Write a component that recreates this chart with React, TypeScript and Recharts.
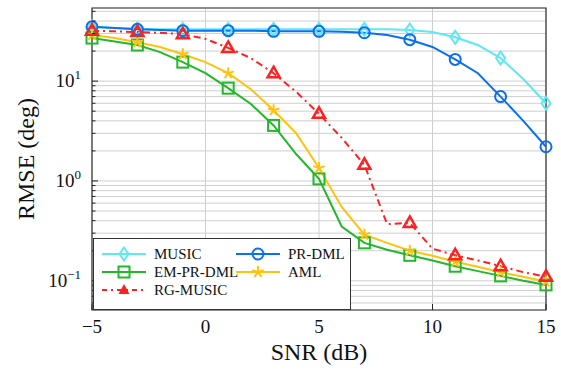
import React from "react";
import {
  CartesianGrid,
  Line,
  LineChart,
  ReferenceArea,
  XAxis,
  YAxis,
} from "recharts";

document.body.style.margin = "0";

const snr = [-5, -4, -3, -2, -1, 0, 1, 2, 3, 4, 5, 6, 7, 8, 9, 10, 11, 12, 13, 14, 15];

const music = [35, 34, 33.5, 33, 33, 33, 33, 33, 33, 33, 33, 33, 33, 33, 32.5, 31, 27.5, 23, 17, 10.5, 6.0];
const prDml = [35, 34, 33, 32.5, 32, 32, 32, 32, 31.5, 31.5, 31.5, 31.2, 30.5, 29, 26, 22, 16.5, 12, 7, 4, 2.2];
const emPrDml = [27, 25, 23, 19.5, 15.5, 12, 8.5, 5.9, 3.6, 1.85, 1.05, 0.35, 0.24, 0.205, 0.18, 0.16, 0.14, 0.125, 0.112, 0.1, 0.091];
const aml = [29, 27, 24.5, 22, 18.6, 15.5, 12, 8.3, 5.1, 3.0, 1.35, 0.55, 0.29, 0.24, 0.2, 0.178, 0.155, 0.138, 0.122, 0.11, 0.098];
const rgMusic = [32, 31.5, 31, 30.5, 29.5, 26.5, 21.5, 17, 12, 7.8, 4.7, 2.7, 1.45, 0.37, 0.38, 0.21, 0.18, 0.16, 0.14, 0.122, 0.11];

const xTicks = [-5, 0, 5, 10, 15];
const yTicks = [
  0.06, 0.07, 0.08, 0.09, 0.1, 0.2, 0.3, 0.4, 0.5, 0.6, 0.7, 0.8, 0.9,
  1, 2, 3, 4, 5, 6, 7, 8, 9, 10, 20, 30, 40, 50,
];
const yMajor: Record<number, string> = { 0.1: "−1", 1: "0", 10: "1" };
const Y_DOMAIN: [number, number] = [0.051, 54];

const FONT = "Liberation Serif";
const textStyle = { fontFamily: FONT };

const data = snr.map((x, i) => ({
  x,
  music: music[i],
  prDml: prDml[i],
  emPrDml: emPrDml[i],
  aml: aml[i],
  rgMusic: rgMusic[i],
}));

type MarkType = "diamond" | "circle" | "square" | "star" | "triangle";

const series: { key: string; name: string; color: string; mark: MarkType; dash?: string }[] = [
  { key: "music", name: "MUSIC", color: "#5ee8f2", mark: "diamond" },
  { key: "prDml", name: "PR-DML", color: "#0a6ff0", mark: "circle" },
  { key: "emPrDml", name: "EM-PR-DML", color: "#22b82a", mark: "square" },
  { key: "aml", name: "AML", color: "#ffc20e", mark: "star" },
  { key: "rgMusic", name: "RG-MUSIC", color: "#ff2020", mark: "triangle", dash: "7 4 2 4" },
];

function Marker({ cx, cy, color, mark }: { cx: number; cy: number; color: string; mark: MarkType }) {
  const sw = 2;
  if (mark === "circle") {
    return <circle cx={cx} cy={cy} r={5.5} fill="none" stroke={color} strokeWidth={sw} />;
  }
  if (mark === "square") {
    return <rect x={cx - 5.5} y={cy - 5.5} width={11} height={11} fill="none" stroke={color} strokeWidth={sw} />;
  }
  if (mark === "diamond") {
    const p = `${cx},${cy - 6.5} ${cx + 4.5},${cy} ${cx},${cy + 6.5} ${cx - 4.5},${cy}`;
    return <polygon points={p} fill="none" stroke={color} strokeWidth={sw} />;
  }
  if (mark === "triangle") {
    const p = `${cx},${cy - 6.5} ${cx + 6},${cy + 4} ${cx - 6},${cy + 4}`;
    return <polygon points={p} fill="none" stroke={color} strokeWidth={2.5} strokeLinejoin="miter" />;
  }
  // star
  const arms = [90, 162, 234, 306, 18].map((a) => {
    const r = (a * Math.PI) / 180;
    return (
      <line key={a} x1={cx} y1={cy} x2={cx + 6 * Math.cos(r)} y2={cy - 6 * Math.sin(r)} stroke={color} strokeWidth={sw} />
    );
  });
  return <g>{arms}</g>;
}

function makeDot(color: string, mark: MarkType) {
  return (props: any) => {
    const { cx, cy, payload, index } = props;
    if (payload.x % 2 === 0 || cx == null || cy == null) return <g key={index} />;
    return (
      <g key={index}>
        <Marker cx={cx} cy={cy} color={color} mark={mark} />
      </g>
    );
  };
}

function YTick(props: any) {
  const { x, y, payload } = props;
  const v = payload.value;
  const major = yMajor[v] !== undefined;
  const ax = x + 10;
  const len = major ? 6 : 3.5;
  return (
    <g>
      <line x1={ax} y1={y} x2={ax + len} y2={y} stroke="#222" strokeWidth={1} />
      {major && (
        <text x={x - 1} y={y + 6} textAnchor="end" style={textStyle} fontSize={19} fill="#111">
          10
          <tspan dy={-8} fontSize={13}>
            {yMajor[v]}
          </tspan>
        </text>
      )}
    </g>
  );
}

function YTickRight(props: any) {
  const { x, y, payload } = props;
  const major = yMajor[payload.value] !== undefined;
  const ax = x - 10;
  const len = major ? 6 : 3.5;
  return <line x1={ax} y1={y} x2={ax - len} y2={y} stroke="#222" strokeWidth={1} />;
}

function XTick(props: any) {
  const { x, y, payload } = props;
  const label = String(payload.value).replace("-", "−");
  return (
    <g>
      <line x1={x} y1={y - 10} x2={x} y2={y - 16} stroke="#222" strokeWidth={1} />
      <text x={x} y={y + 13} textAnchor="middle" style={textStyle} fontSize={19} fill="#111">
        {label}
      </text>
    </g>
  );
}

function LegendBox() {
  const order = ["music", "prDml", "emPrDml", "aml", "rgMusic"];
  return (
    <svg width={258} height={72} style={{ display: "block" }}>
      <rect x={0.5} y={0.5} width={257} height={71} fill="#fff" stroke="#333" strokeWidth={1} />
      {order.map((k, i) => {
        const s = series.find((d) => d.key === k)!;
        const col = i % 2;
        const row = Math.floor(i / 2);
        const x0 = col === 0 ? 9 : 143;
        const cy = 16 + row * 18;
        return (
          <g key={k}>
            <line x1={x0} y1={cy} x2={x0 + 44} y2={cy} stroke={s.color} strokeWidth={2} strokeDasharray={s.dash ? "5 4 2 4" : undefined} />
            {s.mark === "triangle" ? (
              <polygon points={`${x0 + 22},${cy - 6} ${x0 + 27.5},${cy + 4} ${x0 + 16.5},${cy + 4}`} fill={s.color} />
            ) : (
              <Marker cx={x0 + 22} cy={cy} color={s.color} mark={s.mark} />
            )}
            <text x={x0 + 52} y={cy + 5} style={textStyle} fontSize={15} fill="#111">
              {s.name}
            </text>
          </g>
        );
      })}
    </svg>
  );
}

export default function App() {
  return (
    <div style={{ position: "relative", width: 561, height: 371, background: "#fff" }}>
      <LineChart width={561} height={371} data={data} margin={{ top: 8, right: 15, bottom: 0, left: 0 }}>
        <CartesianGrid stroke="#cfcfcf" strokeWidth={1} />
        <XAxis
          dataKey="x"
          type="number"
          domain={[-5, 15]}
          ticks={xTicks}
          height={61}
          axisLine={false}
          tickLine={false}
          tickSize={0}
          tickMargin={10}
          tick={<XTick />}
          interval={0}
          label={{
            content: (p: any) => (
              <text x={p.viewBox.x + p.viewBox.width / 2} y={360} textAnchor="middle" style={textStyle} fontSize={24} fill="#111">
                SNR (dB)
              </text>
            ),
          }}
        />
        <YAxis
          scale="log"
          domain={Y_DOMAIN}
          allowDataOverflow
          ticks={yTicks}
          width={92}
          axisLine={false}
          tickLine={false}
          tickSize={0}
          tickMargin={10}
          tick={<YTick />}
          interval={0}
          label={{
            content: (p: any) => (
              <text
                x={34}
                y={p.viewBox.y + p.viewBox.height / 2}
                transform={`rotate(-90 34 ${p.viewBox.y + p.viewBox.height / 2})`}
                textAnchor="middle"
                style={textStyle}
                fontSize={24}
                fill="#111"
              >
                RMSE (deg)
              </text>
            ),
          }}
        />
        <YAxis
          yAxisId="r"
          orientation="right"
          scale="log"
          domain={Y_DOMAIN}
          allowDataOverflow
          ticks={yTicks}
          width={0}
          axisLine={false}
          tickLine={false}
          tickSize={0}
          tickMargin={10}
          tick={<YTickRight />}
          interval={0}
        />
        <ReferenceArea x1={-5} x2={15} y1={Y_DOMAIN[0]} y2={Y_DOMAIN[1]} fill="none" stroke="#333" strokeWidth={1.2} ifOverflow="visible" />
        {series.map((s) => (
          <Line
            key={s.key}
            dataKey={s.key}
            name={s.name}
            type="linear"
            stroke={s.color}
            strokeWidth={2}
            strokeDasharray={s.dash}
            dot={makeDot(s.color, s.mark)}
            activeDot={false}
            isAnimationActive={false}
          />
        ))}
      </LineChart>
      <div style={{ position: "absolute", left: 93, top: 238 }}>
        <LegendBox />
      </div>
    </div>
  );
}
